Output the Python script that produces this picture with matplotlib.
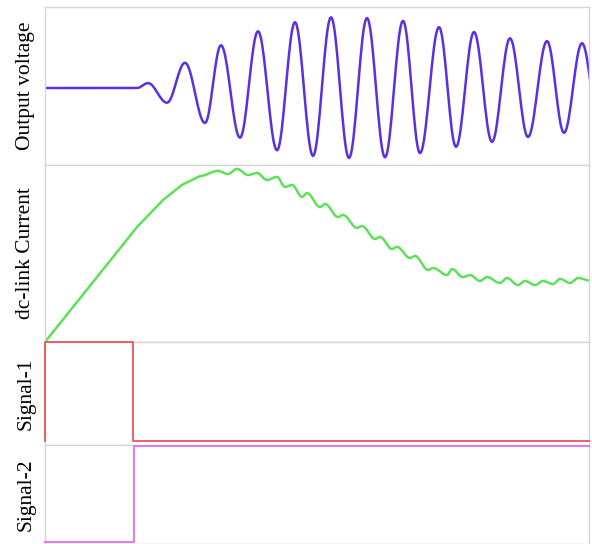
import numpy as np
import matplotlib
matplotlib.use("Agg")
import matplotlib.pyplot as plt

plt.rcParams["font.family"] = ["Liberation Serif", "Times New Roman", "DejaVu Serif"]

# time axis (arbitrary units)
t_end = 544

# output voltage: flat part, then extrema of the oscillation (per unit)
volt_t = [0, 92, 103, 122, 140, 160, 176, 195, 213, 232, 250, 268, 286, 304,
          322, 340, 358, 375, 394, 411, 429, 447, 465, 483, 502, 519, 537, 555]
volt_v = [0.0, 0.0, 0.07, -0.21, 0.36, -0.50, 0.61, -0.71, 0.81, -0.89, 0.94,
          -0.97, 1.01, -1.00, 1.00, -0.99, 0.96, -0.93, 0.87, -0.84, 0.80,
          -0.77, 0.71, -0.70, 0.67, -0.64, 0.64, -0.62]

# dc-link current: linear ramp, then rippled part (local extrema)
ramp_t = [0, 92, 118, 137]
ramp_i = [0.0, 0.676, 0.835, 0.924]
ripple_t = [155, 173, 183, 192, 203, 212, 222, 232, 240, 247, 257, 262, 275,
            280, 293, 298, 312, 317, 330, 335, 347, 352, 365, 370, 383, 388,
            402, 407, 418, 425, 435, 442, 455, 462, 473, 480, 490, 498, 508,
            515, 525, 533, 547]
ripple_i = [0.976, 1.006, 0.988, 1.018, 0.982, 0.994, 0.953, 0.971, 0.912,
            0.924, 0.853, 0.876, 0.794, 0.812, 0.735, 0.747, 0.671, 0.682,
            0.606, 0.618, 0.547, 0.559, 0.494, 0.506, 0.424, 0.435, 0.394,
            0.429, 0.382, 0.394, 0.359, 0.382, 0.347, 0.376, 0.335, 0.359,
            0.335, 0.359, 0.341, 0.371, 0.347, 0.376, 0.359]

# gate signals (step points)
sig1_t = [0, 0, 88, 88, t_end]
sig1_v = [0, 1, 1, 0, 0]
sig2_t = [0, 89, 89, t_end]
sig2_v = [0, 0, 1, 1]


def cosine_join(xs, ys, n=20):
    # join consecutive points with half-cosine segments (zero slope at each point)
    out_x, out_y = [xs[0]], [ys[0]]
    for k in range(len(xs) - 1):
        s = np.linspace(0, 1, n)[1:]
        w = (1 - np.cos(np.pi * s)) / 2
        out_x.extend(xs[k] + (xs[k + 1] - xs[k]) * s)
        out_y.extend(ys[k] + (ys[k + 1] - ys[k]) * w)
    return np.array(out_x), np.array(out_y)


vx, vy = cosine_join(volt_t, volt_v)
rx, ry = cosine_join(ripple_t, ripple_i)
cx = np.concatenate([ramp_t, rx])
cy = np.concatenate([ramp_i, ry])

fig = plt.figure(figsize=(5.92, 5.44), dpi=100)
L, W = 45 / 592, 544 / 592
H = 544
rows = [(7, 165), (165, 342), (342, 445), (445, 544)]
axes = []
for top, bot in rows:
    ax = fig.add_axes([L, 1 - bot / H, W, (bot - top) / H])
    ax.set_xticks([])
    ax.set_yticks([])
    ax.set_xlim(0, t_end)
    for sp in ax.spines.values():
        sp.set_color("#d6d6d6")
        sp.set_linewidth(1.0)
    axes.append(ax)

ax1, ax2, ax3, ax4 = axes

ax1.plot(vx, vy, color="#5a30e0", lw=1.8)
ax1.set_ylim(-1.10, 1.157)
ax1.set_ylabel("Output voltage", fontsize=15.5, labelpad=7)

ax2.plot(cx, cy, color="#5fe05a", lw=1.8)
ax2.set_ylim(0, 1.041)
ax2.set_ylabel("dc-link Current", fontsize=15.5, labelpad=7)

ax3.plot(sig1_t, sig1_v, color="#e85555", lw=1.3, clip_on=False, zorder=3)
ax3.set_ylim(-0.04, 1.0)
ax3.set_ylabel("Signal-1", fontsize=15.5, labelpad=7)

ax4.plot(sig2_t, sig2_v, color="#dd70ee", lw=1.3, clip_on=False, zorder=3)
ax4.set_ylim(-0.021, 1.01)
ax4.set_ylabel("Signal-2", fontsize=15.5, labelpad=7)

fig.savefig("out.png", dpi=100)
